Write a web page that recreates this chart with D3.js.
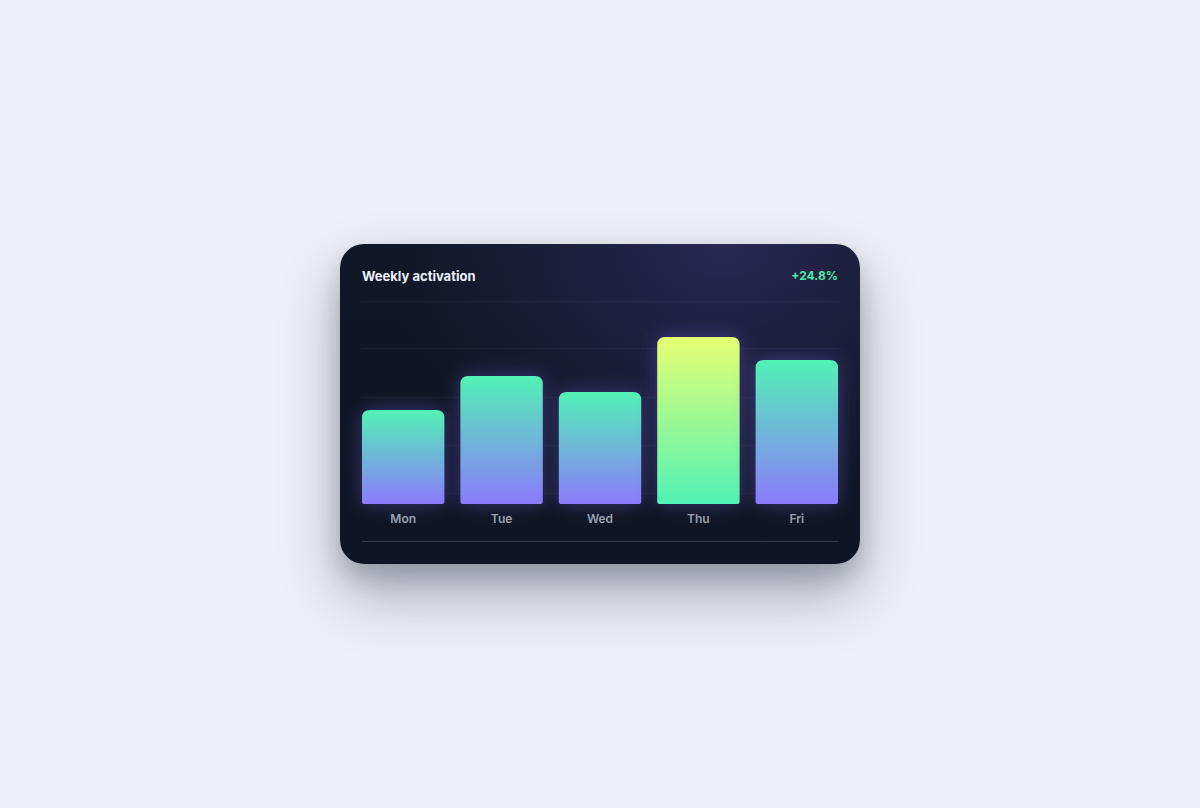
<!DOCTYPE html>
<html>
<head>
<meta charset="utf-8">
<script src="https://cdn.jsdelivr.net/npm/d3@7"></script>
<style>
  html, body { margin: 0; padding: 0; }
  body {
    width: 1200px; height: 808px;
    background: #edf0f7;
    position: relative;
    overflow: hidden;
    font-family: Inter, "Noto Sans", sans-serif;
  }
  #card {
    position: absolute;
    left: 340px; top: 244px;
    width: 520px; height: 320px;
    border-radius: 24px;
    background:
      radial-gradient(ellipse 65% 80% at 74% 0%, rgba(42,41,86,0.95) 0%, rgba(38,37,78,0.55) 45%, rgba(17,22,38,0) 100%),
      linear-gradient(180deg, #111727 0%, #0f1524 100%);
    box-shadow: 0 30px 60px rgba(15,23,42,0.32), 0 12px 24px rgba(15,23,42,0.18);
    overflow: hidden;
  }
  #card svg { display: block; }
</style>
</head>
<body>
<div id="card"></div>
<script>
// données
const days   = ['Mon', 'Tue', 'Wed', 'Thu', 'Fri'];
const values = [46.3, 63.1, 55.2, 82.3, 70.9];
const highlight = 'Thu';
const title  = 'Weekly activation';
const delta  = '+24.8%';
const gridSteps = [0, 0.2, 0.4, 0.6, 0.8, 1];

const W = 520, H = 320, pad = 22;

const svg = d3.select('#card').append('svg')
    .attr('width', W)
    .attr('height', H);

const defs = svg.append('defs');

// dégradés des barres
const gBase = defs.append('linearGradient')
    .attr('id', 'barGrad').attr('x1', 0).attr('y1', 0).attr('x2', 0).attr('y2', 1);
gBase.append('stop').attr('offset', '0%').attr('stop-color', '#52f2b6');
gBase.append('stop').attr('offset', '100%').attr('stop-color', '#8c7afc');

const gHot = defs.append('linearGradient')
    .attr('id', 'barGradHot').attr('x1', 0).attr('y1', 0).attr('x2', 0).attr('y2', 1);
gHot.append('stop').attr('offset', '0%').attr('stop-color', '#e6ff72');
gHot.append('stop').attr('offset', '100%').attr('stop-color', '#52f2b6');

// halo violet
const glow = defs.append('filter')
    .attr('id', 'glow')
    .attr('x', '-40%').attr('y', '-40%').attr('width', '180%').attr('height', '180%');
glow.append('feDropShadow')
    .attr('dx', 0).attr('dy', 0)
    .attr('stdDeviation', 10)
    .attr('flood-color', '#7a6cf2')
    .attr('flood-opacity', 0.36);

// échelles
const x = d3.scaleBand()
    .domain(days)
    .range([pad, W - pad])
    .paddingInner(0.163)
    .paddingOuter(0);

const y = d3.scaleLinear()
    .domain([0, 100])
    .range([260, 57]);

const grid = d3.scaleLinear()
    .domain([0, 1])
    .range([H - pad - 1, 57]);

// lignes de grille
svg.append('g')
    .selectAll('line')
    .data(gridSteps)
    .join('line')
    .attr('x1', pad)
    .attr('x2', W - pad)
    .attr('y1', d => Math.floor(grid(d)) + 0.5)
    .attr('y2', d => Math.floor(grid(d)) + 0.5)
    .attr('stroke', d => d === 0 ? 'rgba(148,163,184,0.28)' : 'rgba(148,163,184,0.06)')
    .attr('stroke-width', 1);

// titre
svg.append('text')
    .attr('x', pad)
    .attr('y', 37)
    .attr('font-size', '13px')
    .attr('font-weight', 700)
    .attr('fill', '#eef1fb')
    .text(title);

svg.append('text')
    .attr('x', W - pad)
    .attr('y', 36)
    .attr('text-anchor', 'end')
    .attr('font-size', '12px')
    .attr('font-weight', 700)
    .attr('fill', '#4fe7a6')
    .text(delta);

// barre arrondie en haut
const barPath = (x0, y0, w, h, rt, rb) => {
    const x1 = x0 + w, y1 = y0 + h;
    return `M${x0},${y1 - rb}` +
        `L${x0},${y0 + rt}Q${x0},${y0} ${x0 + rt},${y0}` +
        `L${x1 - rt},${y0}Q${x1},${y0} ${x1},${y0 + rt}` +
        `L${x1},${y1 - rb}Q${x1},${y1} ${x1 - rb},${y1}` +
        `L${x0 + rb},${y1}Q${x0},${y1} ${x0},${y1 - rb}Z`;
};

const data = days.map((d, i) => ({ day: d, value: values[i] }));

svg.append('g')
    .selectAll('path')
    .data(data)
    .join('path')
    .attr('d', d => barPath(x(d.day), y(d.value), x.bandwidth(), y(0) - y(d.value), 8, 2))
    .attr('fill', d => d.day === highlight ? 'url(#barGradHot)' : 'url(#barGrad)')
    .attr('filter', 'url(#glow)');

// libellés
svg.append('g')
    .selectAll('text')
    .data(days)
    .join('text')
    .attr('x', d => x(d) + x.bandwidth() / 2)
    .attr('y', 279)
    .attr('text-anchor', 'middle')
    .attr('font-size', '12px')
    .attr('font-weight', 600)
    .attr('fill', '#9ba1b2')
    .text(d => d);
</script>
</body>
</html>
